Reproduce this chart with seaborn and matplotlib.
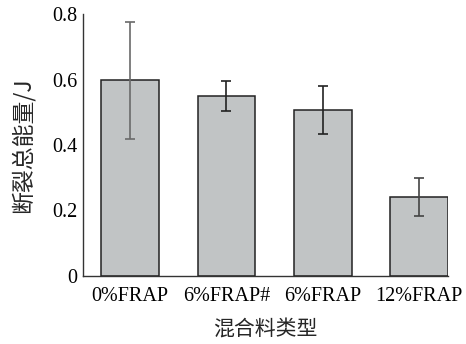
import matplotlib
matplotlib.use("Agg")
import matplotlib.pyplot as plt
import seaborn as sns
import pandas as pd

# Mixture types and total fracture energy (J) with standard deviations
mix_types = ["0%FRAP", "6%FRAP#", "6%FRAP", "12%FRAP"]
energy = [0.598, 0.550, 0.507, 0.241]
energy_sd = [0.179, 0.047, 0.074, 0.057]
err_colors = ["#6a6a6a", "#222222", "#222222", "#444444"]
y_ticks = [0, 0.2, 0.4, 0.6, 0.8]
y_tick_labels = ["0", "0.2", "0.4", "0.6", "0.8"]

sns.set_theme(style="white")
plt.rcParams["font.family"] = ["Liberation Serif", "Noto Sans CJK SC"]
plt.rcParams["axes.unicode_minus"] = False

df = pd.DataFrame({"type": mix_types, "energy": energy})

fig = plt.figure(figsize=(4.66, 3.44), dpi=100)
ax = fig.add_axes([0.178, 0.198, 0.783, 0.761])

sns.barplot(data=df, x="type", y="energy", order=mix_types, color="#c1c4c5",
            saturation=1, width=0.6, edgecolor="#222222", linewidth=1.1,
            errorbar=None, ax=ax)

for i, (v, s, c) in enumerate(zip(energy, energy_sd, err_colors)):
    ax.errorbar(i, v, yerr=s, fmt="none", ecolor=c, elinewidth=1.2,
                capsize=3.5, capthick=1.2, zorder=5)

ax.set_ylim(0, 0.8)
ax.set_xlim(-0.49, 3.3)
ax.set_yticks(y_ticks)
ax.set_yticklabels(y_tick_labels)

for side in ["top", "right"]:
    ax.spines[side].set_visible(False)
for side in ["left", "bottom"]:
    ax.spines[side].set_color("#333333")
    ax.spines[side].set_linewidth(1.0)

ax.tick_params(axis="both", direction="in", length=4, width=1.0,
               colors="#333333", labelcolor="black", labelsize=14.5)
ax.tick_params(axis="x", pad=8)
ax.tick_params(axis="y", pad=4)

ax.set_xlabel("混合料类型", fontsize=15, family=["Noto Sans CJK SC"], labelpad=9)
ax.set_ylabel("断裂总能量/J", fontsize=16.5,
              family=["Noto Sans CJK SC", "Liberation Serif"], labelpad=13)

fig.savefig("out.png", dpi=100)
